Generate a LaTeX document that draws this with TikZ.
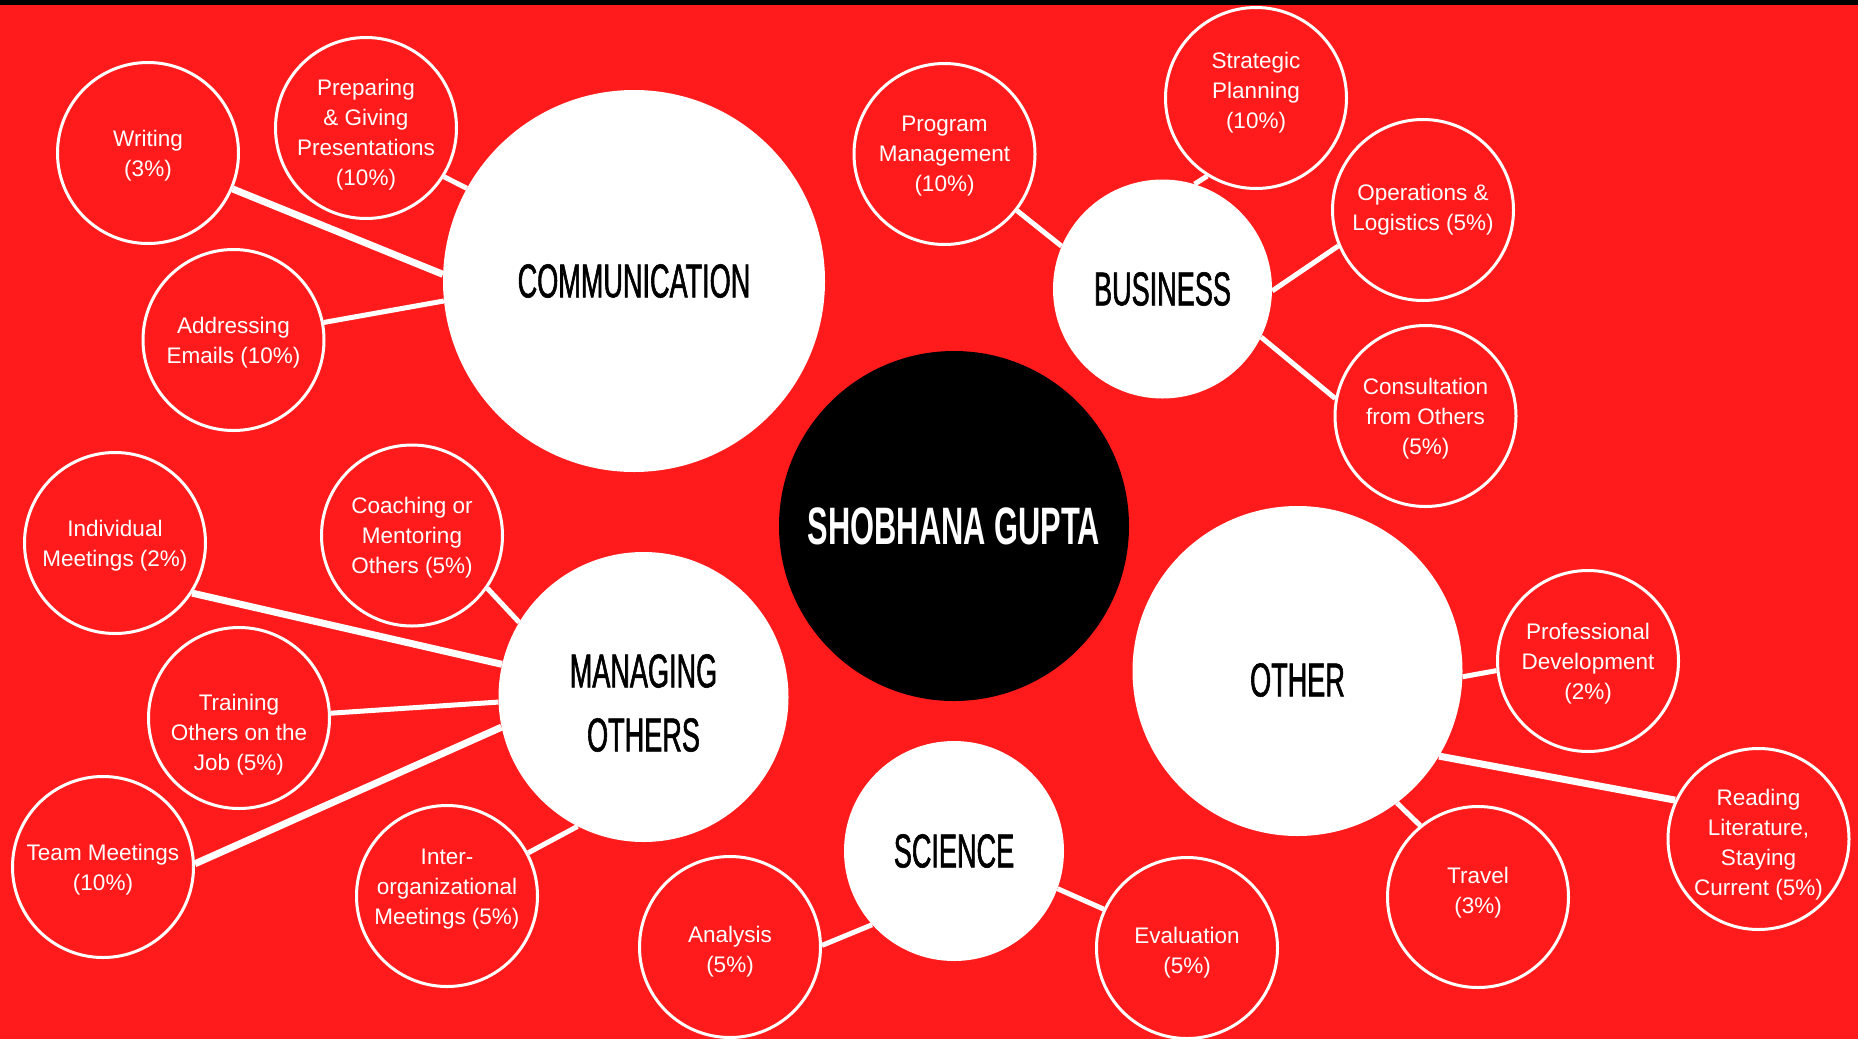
\documentclass[tikz,border=0pt]{standalone}
\usepackage{fontspec}
\setmainfont{Liberation Sans}
\newfontfamily\headfont[FakeStretch=0.57,FakeBold=1.2]{Liberation Sans}
\newfontfamily\namefont[FakeStretch=0.585]{Liberation Sans Bold}
\definecolor{bgred}{RGB}{255,27,27}
\begin{document}
\begin{tikzpicture}[x=1pt,y=-1pt,
  bub/.style={circle,draw=white,line width=3pt,fill=bgred,minimum size=181pt,inner sep=0pt},
  btxt/.style={text=white,align=center,inner sep=0pt,font=\fontsize{22.5}{30}\selectfont},
  hub/.style={circle,fill=white,inner sep=0pt},
  htxt/.style={text=black,align=center,inner sep=0pt,font=\headfont\fontsize{47.5}{64}\selectfont},
  link/.style={draw=white,line width=5pt},
  heavylink/.style={draw=white,line width=7pt}]
\newcommand\mybub[4]{\node[bub] (#1) at (#2) {};
  \node[btxt] (#1t) at ([yshift=#3-2.5pt]#1.center) {#4};}
\newcommand\myhub[5]{\node[hub,minimum size=#3] (#1) at (#2) {};
  \node[htxt] (#1t) at ([yshift=#4]#1.center) {#5};}
\useasboundingbox (0,0) rectangle (1858,1039);
\fill[bgred] (0,0) rectangle (1858,1039);
\fill[black] (0,0) rectangle (1858,5);
% central node
\node[circle,fill=black,minimum size=350pt,inner sep=0pt] (name) at (954,526) {};
\node[text=white,inner sep=0pt,font=\namefont\fontsize{52.7}{60}\selectfont] (namet) at (name.center) {SHOBHANA GUPTA};
% category hubs
\myhub{comm}{634,281}{382pt}{0pt}{COMMUNICATION}
\myhub{bus}{1162.5,289}{219pt}{0pt}{BUSINESS}
\myhub{man}{643.5,697}{290pt}{-6pt}{MANAGING\\OTHERS}
\myhub{oth}{1297.5,671}{330pt}{-9pt}{OTHER}
\myhub{sci}{954,851}{220pt}{0pt}{SCIENCE}
% bubbles
\mybub{wri}{148,153}{0pt}{Writing\\(3\%)}
\mybub{pre}{366,128}{-4pt}{Preparing\\\&~Giving\\Presentations\\(10\%)}
\mybub{add}{233.5,340}{0pt}{Addressing\\Emails (10\%)}
\mybub{prog}{944.5,154}{0pt}{Program\\Management\\(10\%)}
\mybub{stra}{1256,98}{8pt}{Strategic\\Planning\\(10\%)}
\mybub{ops}{1423,210}{3pt}{Operations \&\\Logistics (5\%)}
\mybub{cons}{1425.5,416}{0pt}{Consultation\\from Others\\(5\%)}
\mybub{ind}{115,543}{0pt}{Individual\\Meetings (2\%)}
\mybub{coa}{412,535.5}{0pt}{Coaching or\\Mentoring\\Others (5\%)}
\mybub{tra}{239,718}{-14pt}{Training\\Others on the\\Job (5\%)}
\mybub{team}{103,867}{0pt}{Team Meetings\\(10\%)}
\mybub{inter}{447,896}{9pt}{Inter-\\organizational\\Meetings (5\%)}
\mybub{ana}{730,947}{-2pt}{Analysis\\(5\%)}
\mybub{eva}{1187,948}{-2pt}{Evaluation\\(5\%)}
\mybub{prof}{1588,661}{0pt}{Professional\\Development\\(2\%)}
\mybub{trav}{1478,897}{7pt}{Travel\\(3\%)}
\mybub{read}{1758.5,839}{-3pt}{Reading\\Literature,\\Staying\\Current (5\%)}
% connectors
\draw[heavylink] (wri.-23.4) -- (comm.178.2);
\draw[link] (pre.-32.3) -- (comm.151.2);
\draw[link] (add.11.1) -- (comm.186.6);
\draw[link] (prog.-38.1) -- (bus.157.3);
\draw[link] (stra.-122) -- (bus.73.2);
\draw[link] (ops.203.6) -- (bus.-1.4);
\draw[link] (cons.169.8) -- (bus.-26.7);
\draw[heavylink] (ind.-33.2) -- (man.167.4);
\draw[link] (coa.-35.3) -- (man.149.8);
\draw[link] (tra.3.7) -- (man.182.6);
\draw[heavylink] (team.2.4) -- (man.192.9);
\draw[link] (inter.28.1) -- (man.-117.7);
\draw[link] (ana.1.2) -- (sci.-138.9);
\draw[link] (eva.155.6) -- (sci.-20.2);
\draw[link] (prof.186.8) -- (oth.-2);
\draw[heavylink] (read.155.6) -- (oth.-31.1);
\draw[link] (trav.129) -- (oth.-53);
\end{tikzpicture}
\end{document}
